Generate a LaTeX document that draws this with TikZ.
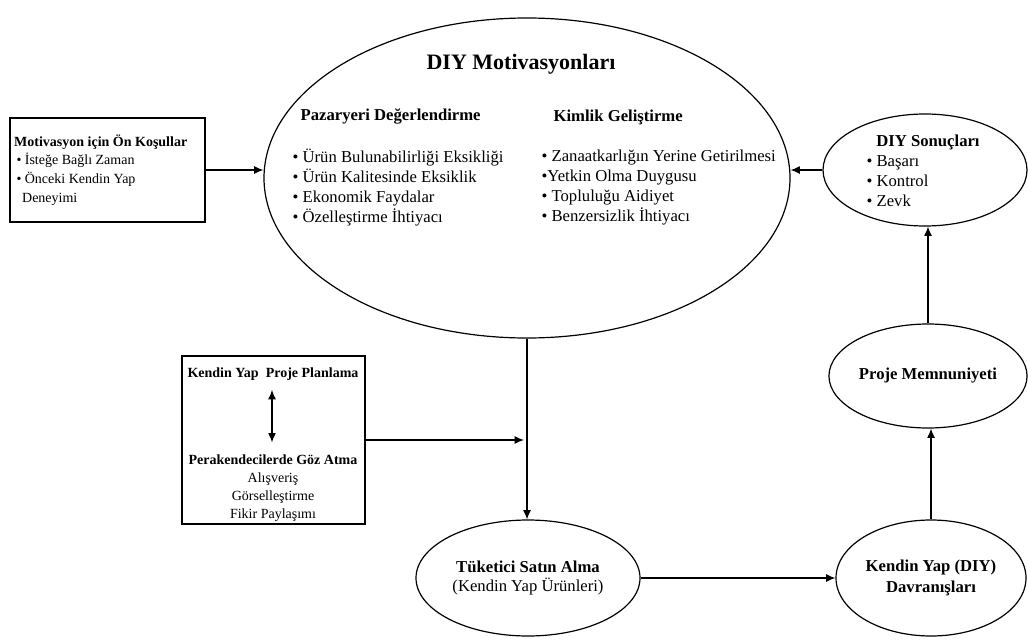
\documentclass[tikz,border=0pt]{standalone}
\usepackage{fontspec}
\setmainfont{Liberation Serif}
\usetikzlibrary{shapes.geometric,arrows.meta}

\tikzset{every picture/.style={line width=0.9pt}}
\tikzset{
  oval/.style={draw, ellipse, inner sep=0pt, align=center},
  boxed/.style={draw, rectangle, inner sep=0pt},
  big/.style={inner sep=0.75pt, font=\fontsize{12.5}{15}\selectfont},
  small/.style={inner sep=0.75pt, font=\fontsize{10.5}{14}\selectfont},
  flow/.style={-{Latex[length=7pt,width=6pt]}},
}

\begin{document}
\begin{tikzpicture}[x=0.75pt,y=0.75pt,yscale=-1,xscale=1]
\useasboundingbox (0,0) rectangle (1028,639);

% ellipses
\node [oval, minimum width=394.5pt, minimum height=240pt] (motiv) at (527,178) {};
\node [oval, minimum width=153pt, minimum height=84pt] (sonuc) at (925,170) {};
\node [oval, big, minimum width=139.5pt, minimum height=78pt] (memnun) at (928,376) {\textbf{Proje Memnuniyeti}};
\node [oval, big, minimum width=142.5pt, minimum height=87pt, font=\fontsize{12.5}{15.75}\selectfont] (davranis) at (931,578) {\textbf{Kendin Yap (DIY)}\\\textbf{Davranışları}};
\node [oval, big, minimum width=168pt, minimum height=87pt, font=\fontsize{12.5}{14.25}\selectfont] (tuketici) at (528,578) {\textbf{Tüketici Satın Alma}\\(Kendin Yap Ürünleri)};

% boxes
\node [boxed, small, minimum width=146.25pt, minimum height=78pt, text width=140pt, align=flush left, inner xsep=3pt] (onkosul) at (107.5,170) {\textbf{Motivasyon için Ön Koşullar}\\ \,\textbullet\ İsteğe Bağlı Zaman\\ \,\textbullet\ Önceki Kendin Yap\\ \hspace{6pt}Deneyimi};
\node [boxed, minimum width=137.25pt, minimum height=126pt] (planbox) at (273.5,440) {};

% text in the big ellipse
\node [inner sep=0.75pt, font=\fontsize{16.5}{20}\selectfont\bfseries] (baslik) at (521,64) {DIY Motivasyonları};
\node [big, anchor=west, font=\fontsize{12.5}{15}\selectfont\bfseries] (pazar) at (299,116) {Pazaryeri Değerlendirme};
\node [big, anchor=west, align=left] (pazarlist) at (291,188) {\textbullet\ Ürün Bulunabilirliği Eksikliği\\\textbullet\ Ürün Kalitesinde Eksiklik\\\textbullet\ Ekonomik Faydalar\\\textbullet\ Özelleştirme İhtiyacı};
\node [big, anchor=west, font=\fontsize{12.5}{15}\selectfont\bfseries] (kimlik) at (552,117) {Kimlik Geliştirme};
\node [big, anchor=west, align=left] (kimliklist) at (540,188) {\textbullet\ Zanaatkarlığın Yerine Getirilmesi\\\textbullet Yetkin Olma Duygusu\\\textbullet\ Topluluğu Aidiyet\\\textbullet\ Benzersizlik İhtiyacı};

% text in the result ellipse
\node [big, font=\fontsize{12.5}{15}\selectfont\bfseries] (sonucbaslik) at (928,142) {DIY Sonuçları};
\node [big, anchor=north west, align=left] (sonuclist) at (865,154) {\textbullet\ Başarı\\\textbullet\ Kontrol\\\textbullet\ Zevk};

% text in the planning box
\node [small, font=\fontsize{10.5}{14}\selectfont\bfseries] (plan) at (273,374) {Kendin Yap\ \ Proje Planlama};
\node [small, align=center, font=\fontsize{10.5}{13.5}\selectfont] (gozatma) at (273,488) {\textbf{Perakendecilerde Göz Atma}\\Alışveriş\\Görselleştirme\\Fikir Paylaşımı};

\coordinate (birlesim) at (524,440);

% connectors
\draw [flow] (onkosul.east) -- (onkosul.east -| motiv.west);
\draw [flow] (sonuc.west) -- (sonuc.west -| motiv.east);
\draw [flow] (motiv.south) -- (motiv.south |- tuketici.north);
\draw [flow] (planbox.east) -- (birlesim);
\draw [{Latex[length=7pt,width=6pt]}-{Latex[length=7pt,width=6pt]}, shorten >=8pt, shorten <=6pt] (plan.south -| 272,0) -- (gozatma.north -| 272,0);
\draw [flow] (tuketici.east) -- (davranis.west);
\draw [flow] (davranis.north) -- (davranis.north |- memnun.south);
\draw [flow] (memnun.north) -- (memnun.north |- sonuc.south);

\end{tikzpicture}
\end{document}
